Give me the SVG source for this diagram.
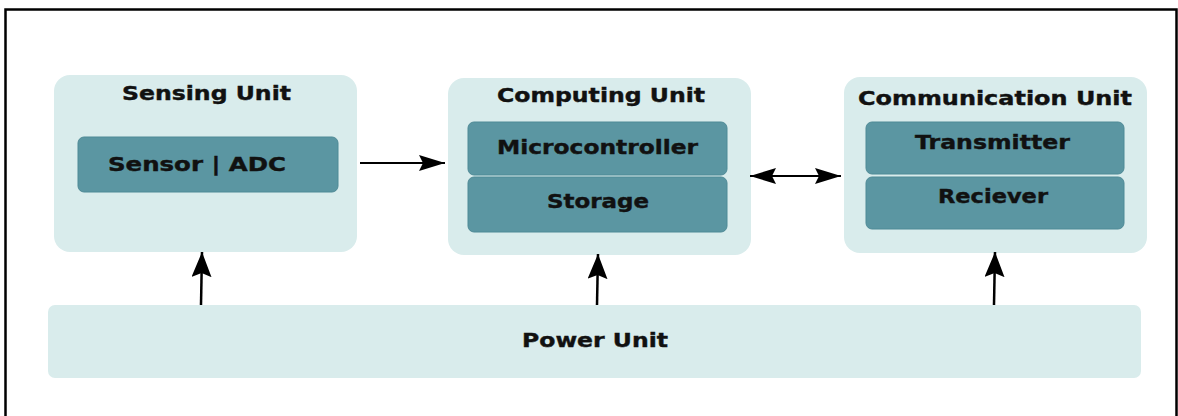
<svg xmlns="http://www.w3.org/2000/svg" width="1178" height="416" viewBox="0 0 1178 416">
<style>
.outer{fill:#d9ecec;}
.inner{fill:#5b96a2;stroke:#4f8a96;stroke-width:1;}
.t{font-family:"DejaVu Sans",Verdana,sans-serif;font-weight:bold;font-size:19px;fill:#111;stroke:#111;stroke-width:0.4;}
.c{stroke:#000;fill:none;}
</style>
<defs>
<marker id="ah" markerUnits="userSpaceOnUse" markerWidth="26" markerHeight="16" refX="26" refY="8" orient="auto-start-reverse" viewBox="0 0 26 16">
<path d="M0,0 L26,8 L0,16 L4,8 Z" fill="#000"/>
</marker>
<marker id="av" markerUnits="userSpaceOnUse" markerWidth="25" markerHeight="20" refX="25" refY="10" orient="auto" viewBox="0 0 25 20">
<path d="M0,0 L25,10 L0,20 L4,10 Z" fill="#000"/>
</marker>
</defs>
<rect width="1178" height="416" fill="#fff"/>
<path d="M5.5,416 V9.5 H1176.5 V416" fill="none" stroke="#000" stroke-width="2.5"/>

<g id="sensing-unit">
<rect class="outer" x="54" y="75" width="303" height="177" rx="16"/>
<text class="t" x="122" y="100" textLength="169" lengthAdjust="spacingAndGlyphs">Sensing Unit</text>
<g id="sensor-adc">
<rect class="inner" x="78" y="137" width="260" height="55" rx="6"/>
<text class="t" x="108" y="171" textLength="178" lengthAdjust="spacingAndGlyphs">Sensor | ADC</text>
</g>
</g>

<g id="computing-unit">
<rect class="outer" x="448" y="78" width="303" height="177" rx="16"/>
<text class="t" x="497" y="102" textLength="208" lengthAdjust="spacingAndGlyphs">Computing Unit</text>
<g id="microcontroller">
<rect class="inner" x="468" y="122" width="259" height="53" rx="6"/>
<text class="t" x="497" y="154" textLength="201" lengthAdjust="spacingAndGlyphs">Microcontroller</text>
</g>
<g id="storage">
<rect class="inner" x="468" y="177" width="259" height="55" rx="6"/>
<text class="t" x="547" y="208" textLength="102" lengthAdjust="spacingAndGlyphs">Storage</text>
</g>
</g>

<g id="communication-unit">
<rect class="outer" x="844" y="77" width="303" height="176" rx="16"/>
<text class="t" x="858" y="105" textLength="274" lengthAdjust="spacingAndGlyphs">Communication Unit</text>
<g id="transmitter">
<rect class="inner" x="866" y="122" width="258" height="52" rx="6"/>
<text class="t" x="915" y="149" textLength="155" lengthAdjust="spacingAndGlyphs">Transmitter</text>
</g>
<g id="receiver">
<rect class="inner" x="866" y="177" width="258" height="52" rx="6"/>
<text class="t" x="938" y="203" textLength="110" lengthAdjust="spacingAndGlyphs">Reciever</text>
</g>
</g>

<g id="power-unit">
<rect class="outer" x="48" y="305" width="1093" height="73" rx="7"/>
<text class="t" x="522" y="347" textLength="146" lengthAdjust="spacingAndGlyphs">Power Unit</text>
</g>

<g id="connectors">
<line class="c" x1="360" y1="163" x2="445" y2="163" stroke-width="2" marker-end="url(#ah)"/>
<line class="c" x1="750" y1="176" x2="841" y2="176" stroke-width="2" marker-start="url(#ah)" marker-end="url(#ah)"/>
<line class="c" x1="201" y1="305" x2="202" y2="252" stroke-width="2.5" marker-end="url(#av)"/>
<line class="c" x1="597" y1="305" x2="598" y2="254" stroke-width="2.5" marker-end="url(#av)"/>
<line class="c" x1="994" y1="305" x2="995" y2="252" stroke-width="2.5" marker-end="url(#av)"/>
</g>
</svg>
